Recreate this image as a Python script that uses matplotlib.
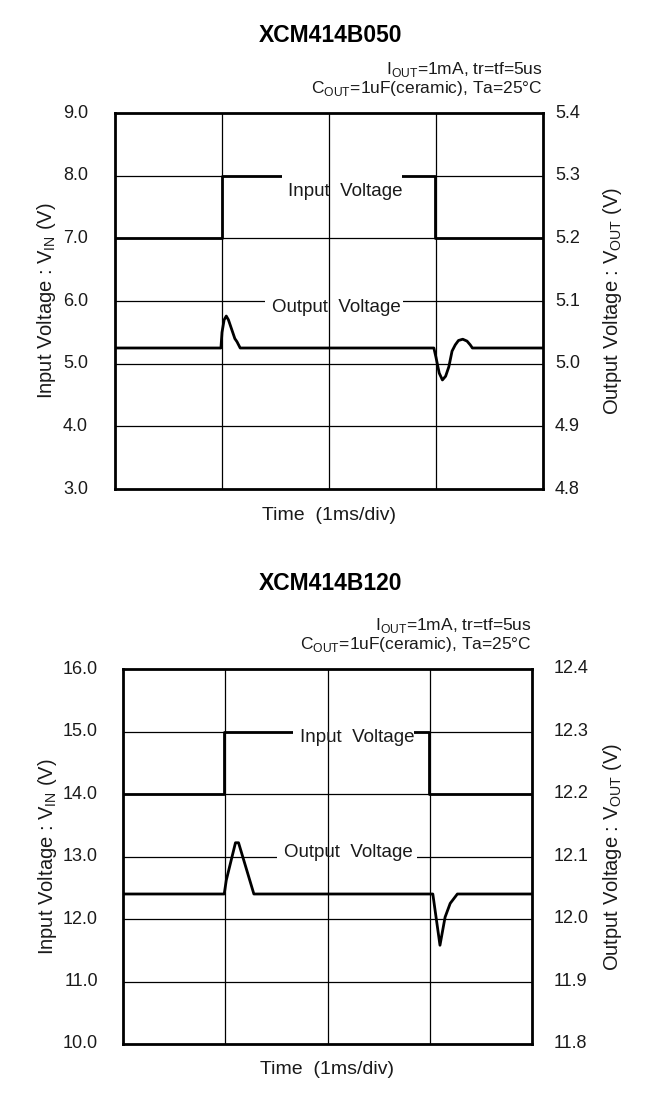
import matplotlib
matplotlib.use("Agg")
import matplotlib.pyplot as plt
from matplotlib.patches import Rectangle

plt.rcParams["font.family"] = ["Liberation Sans", "DejaVu Sans"]
plt.rcParams["mathtext.fontset"] = "custom"
plt.rcParams["mathtext.rm"] = "Liberation Sans"

# ---- data: XCM414B050 (time in ms, 1ms/div) ----
t_in_050 = [0, 1.0, 1.0, 2.99, 2.99, 4]
v_in_050 = [7, 7, 8, 8, 7, 7]
t_out_050 = [0, 0.99, 1.0, 1.02, 1.04, 1.06, 1.08, 1.10, 1.12, 1.14, 1.17,
             2.98, 3.0, 3.03, 3.06, 3.09, 3.12, 3.15, 3.18, 3.21, 3.25,
             3.29, 3.32, 3.34, 4]
v_out_050 = [5.025, 5.025, 5.05, 5.07, 5.076, 5.07, 5.06, 5.05, 5.04, 5.035, 5.025,
             5.025, 5.01, 4.985, 4.974, 4.98, 4.995, 5.02, 5.03, 5.037, 5.039,
             5.036, 5.03, 5.025, 5.025]
yl_ticks_050 = [3.0, 4.0, 5.0, 6.0, 7.0, 8.0, 9.0]
yr_ticks_050 = [4.8, 4.9, 5.0, 5.1, 5.2, 5.3, 5.4]

# ---- data: XCM414B120 ----
t_in_120 = [0, 0.99, 0.99, 2.99, 2.99, 4]
v_in_120 = [14, 14, 15, 15, 14, 14]
t_out_120 = [0, 0.99, 1.01, 1.10, 1.13, 1.28, 3.01, 3.03, 3.10, 3.15, 3.20, 3.27, 4]
v_out_120 = [12.04, 12.04, 12.062, 12.122, 12.122, 12.04, 12.04, 12.04,
             11.958, 12.003, 12.025, 12.04, 12.04]
yl_ticks_120 = [10.0, 11.0, 12.0, 13.0, 14.0, 15.0, 16.0]
yr_ticks_120 = [11.8, 11.9, 12.0, 12.1, 12.2, 12.3, 12.4]

conditions = "I$_{\\mathregular{OUT}}$=1mA, tr=tf=5us\nC$_{\\mathregular{OUT}}$=1uF(ceramic), Ta=25\u00b0C"

W, H = 659, 1095
fig = plt.figure(figsize=(W / 100, H / 100), dpi=100)
TXT = "#1a1a1a"


def px_axes(left, top, right, bottom):
    return fig.add_axes([left / W, 1 - bottom / H, (right - left) / W, (bottom - top) / H])


def label(ax, xy, gap, text):
    # white box that breaks the grid line / trace behind the label
    x0, x1, y0, y1 = gap
    ax.add_patch(Rectangle((x0, y0), x1 - x0, y1 - y0, facecolor="white",
                           edgecolor="none", zorder=3.5))
    ax.text(xy[0], xy[1], text, ha="center", va="center", fontsize=13.5,
            color=TXT, zorder=5)


def panel(box, title, t_in, v_in, t_out, v_out, yl, yr, in_lbl, out_lbl, lpad, rpad, title_y, lab_x):
    left, top, right, bottom = box
    ax = px_axes(left, top, right, bottom)
    ax.set_xlim(0, 4)
    ax.set_ylim(yl[0], yl[-1])
    ax.set_xticks([1, 3])
    ax.set_yticks(yl[1:-1])
    ax.grid(True, color="black", lw=0.9)
    ax.axvline(2, color="black", lw=0.9, zorder=4)
    ax.set_xticklabels([])
    ax.set_yticklabels([])
    ax.tick_params(length=0)
    for s in ax.spines.values():
        s.set_linewidth(2)
        s.set_zorder(6)
    ax.set_axisbelow(True)
    for v in yl:
        ax.text(-lpad, v, "%.1f" % v, transform=ax.get_yaxis_transform(),
                ha="right", va="center", fontsize=13, color=TXT)

    ax.plot(t_in, v_in, color="black", lw=2, zorder=3)

    # output trace on the right-hand scale, drawn in left-axis units
    scale = (yl[-1] - yl[0]) / (yr[-1] - yr[0])
    ax.plot(t_out, [yl[0] + (v - yr[0]) * scale for v in v_out], color="black", lw=2, zorder=3)
    ax2 = ax.twinx()
    ax2.set_ylim(yr[0], yr[-1])
    ax2.set_yticks([])
    for s in ax2.spines.values():
        s.set_visible(False)
    for v in yr:
        ax2.text(1 + rpad, v, "%.1f" % v, transform=ax2.get_yaxis_transform(),
                 ha="left", va="center", fontsize=13, color=TXT)

    label(ax, in_lbl[:2], in_lbl[2], "Input  Voltage")
    label(ax, out_lbl[:2], out_lbl[2], "Output  Voltage")

    cx = (left + right) / 2
    fig.text(331 / W, 1 - title_y / H, title, ha="center", va="center",
             fontsize=16.5, fontweight="bold")
    fig.text(right / W, 1 - (top - 34) / H, conditions, ha="right", va="center",
             fontsize=12.5, linespacing=0.95, color=TXT)
    fig.text(cx / W, 1 - (bottom + 26) / H, "Time  (1ms/div)", ha="center", va="center",
             fontsize=14, color=TXT)
    fig.text(lab_x[0] / W, 1 - (top + bottom) / 2 / H,
             "Input Voltage : V$_{\\mathregular{IN}}$ (V)", rotation=90,
             ha="center", va="center", fontsize=14.5, color=TXT)
    fig.text(lab_x[1] / W, 1 - (top + bottom) / 2 / H,
             "Output Voltage : V$_{\\mathregular{OUT}}$ (V)", rotation=90,
             ha="center", va="center", fontsize=14.5, color=TXT)


panel((115, 113, 543, 489), "XCM414B050", t_in_050, v_in_050, t_out_050, v_out_050,
      yl_ticks_050, yr_ticks_050,
      (2.15, 7.75, (1.56, 2.68, 7.55, 8.08)),
      (2.07, 5.89, (1.40, 2.69, 5.75, 6.04)),
      0.063, 0.028, 35, (47, 612))
panel((123, 669, 532, 1044), "XCM414B120", t_in_120, v_in_120, t_out_120, v_out_120,
      yl_ticks_120, yr_ticks_120,
      (2.29, 14.9, (1.66, 2.85, 14.75, 15.06)),
      (2.20, 13.07, (1.51, 2.88, 12.93, 13.05)),
      0.061, 0.054, 583, (48, 612))

fig.savefig("out.png", dpi=100, facecolor="white")
